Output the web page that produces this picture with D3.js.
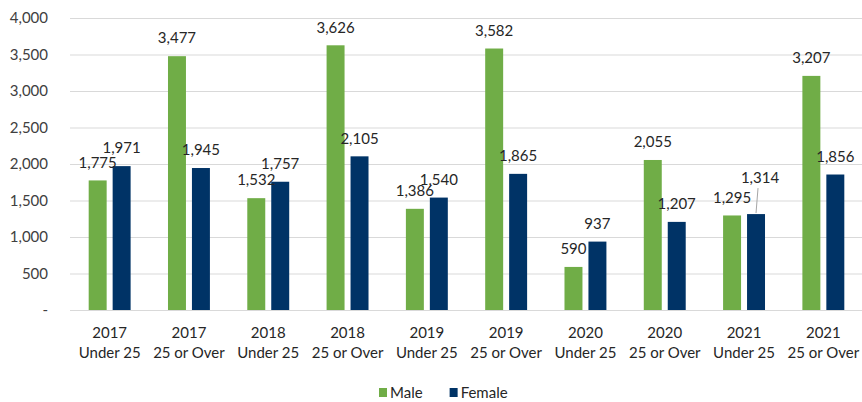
<!DOCTYPE html>
<html>
<head>
<meta charset="utf-8">
<script src="https://cdn.jsdelivr.net/npm/d3@7"></script>
<style>
  body { margin: 0; background: #fff; }
  svg { display: block; font-family: Lato, "Open Sans", sans-serif; }
</style>
</head>
<body>
<svg id="chart" width="862" height="402"></svg>
<script>
var years = ['2017', '2017', '2018', '2018', '2019', '2019', '2020', '2020', '2021', '2021'];
var ageGroups = ['Under 25', '25 or Over', 'Under 25', '25 or Over', 'Under 25', '25 or Over', 'Under 25', '25 or Over', 'Under 25', '25 or Over'];
var male = [1775, 3477, 1532, 3626, 1386, 3582, 590, 2055, 1295, 3207];
var female = [1971, 1945, 1757, 2105, 1540, 1865, 937, 1207, 1314, 1856];
var seriesNames = ['Male', 'Female'];
var yTicks = [0, 500, 1000, 1500, 2000, 2500, 3000, 3500, 4000];

var colors = { Male: '#70ad47', Female: '#003366' };

var svg = d3.select('#chart');
var plotLeft = 70, plotRight = 863, plotTop = 18, plotBottom = 310;

var x0 = d3.scaleBand()
  .domain(d3.range(years.length))
  .range([plotLeft, plotRight]);

var x1 = d3.scaleBand()
  .domain(seriesNames)
  .range([0, x0.bandwidth()])
  .paddingInner(0.25)
  .paddingOuter(0.78);

var y = d3.scaleLinear()
  .domain([0, 4000])
  .range([plotBottom, plotTop]);

// gridlines
svg.append('g')
  .attr('transform', 'translate(' + plotLeft + ',0)')
  .call(d3.axisLeft(y).tickValues(yTicks).tickSize(-(plotRight - plotLeft)).tickFormat(''))
  .call(function (g) {
    g.select('.domain').remove();
    g.selectAll('line').attr('stroke', '#d9d9d9').attr('stroke-width', 1);
  });

// y tick labels
svg.append('g')
  .attr('transform', 'translate(' + plotLeft + ',0)')
  .call(d3.axisLeft(y).tickValues(yTicks).tickSize(0).tickPadding(22)
    .tickFormat(function (d) { return d === 0 ? '-' : d3.format(',')(d); }))
  .call(function (g) {
    g.select('.domain').remove();
    g.selectAll('text')
      .attr('fill', '#404040')
      .style('font-size', '15px')
      .style('font-family', 'Lato, "Open Sans", sans-serif');
  });

var rows = years.map(function (yr, i) {
  return { i: i, Male: male[i], Female: female[i] };
});

var groups = svg.append('g').selectAll('g')
  .data(rows)
  .join('g')
  .attr('transform', function (d) { return 'translate(' + x0(d.i) + ',0)'; });

groups.selectAll('rect')
  .data(function (d) { return seriesNames.map(function (k) { return { key: k, value: d[k] }; }); })
  .join('rect')
  .attr('x', function (d) { return x1(d.key); })
  .attr('y', function (d) { return y(d.value); })
  .attr('width', x1.bandwidth())
  .attr('height', function (d) { return y(0) - y(d.value); })
  .attr('fill', function (d) { return colors[d.key]; });

// data labels, Female label bumped up with a leader line when it collides
var fmt = d3.format(',');
groups.each(function (d) {
  var g = d3.select(this);
  var mx = x1('Male') + x1.bandwidth() / 2;
  var fx = x1('Female') + x1.bandwidth() / 2;
  var my = y(d.Male) - 18;
  var fy = y(d.Female) - 18;
  var bumped = false;
  if (Math.abs(my - fy) < 8) {
    fy = Math.min(my, fy) - 18;
    bumped = true;
  }
  if (bumped) {
    g.append('line')
      .attr('x1', fx + 2).attr('y1', fy + 10)
      .attr('x2', fx).attr('y2', y(d.Female) - 1)
      .attr('stroke', '#a6a6a6').attr('stroke-width', 1);
  }
  g.append('text')
    .attr('x', mx).attr('y', my)
    .attr('dy', '0.35em')
    .attr('text-anchor', 'middle')
    .attr('fill', '#262626')
    .style('font-size', '15px')
    .text(fmt(d.Male));
  g.append('text')
    .attr('x', bumped ? fx + 4 : fx).attr('y', fy)
    .attr('dy', '0.35em')
    .attr('text-anchor', 'middle')
    .attr('fill', '#262626')
    .style('font-size', '15px')
    .text(fmt(d.Female));
});

// x labels
var xl = svg.append('g').selectAll('text')
  .data(rows)
  .join('text')
  .attr('text-anchor', 'middle')
  .attr('fill', '#262626')
  .style('font-size', '15px');
xl.append('tspan')
  .attr('x', function (d) { return x0(d.i) + x0.bandwidth() / 2; })
  .attr('y', 338)
  .text(function (d) { return years[d.i]; });
xl.append('tspan')
  .attr('x', function (d) { return x0(d.i) + x0.bandwidth() / 2; })
  .attr('y', 358)
  .text(function (d) { return ageGroups[d.i]; });

// legend
var legend = svg.append('g').attr('transform', 'translate(379,393)');
var lx = 0;
seriesNames.forEach(function (k) {
  legend.append('rect')
    .attr('x', lx).attr('y', -5)
    .attr('width', 8).attr('height', 9)
    .attr('fill', colors[k]);
  var t = legend.append('text')
    .attr('x', lx + 11).attr('y', 0)
    .attr('dy', '0.35em')
    .attr('fill', '#262626')
    .style('font-size', '15px')
    .text(k);
  lx += 11 + t.node().getComputedTextLength() + 27;
});
</script>
</body>
</html>
